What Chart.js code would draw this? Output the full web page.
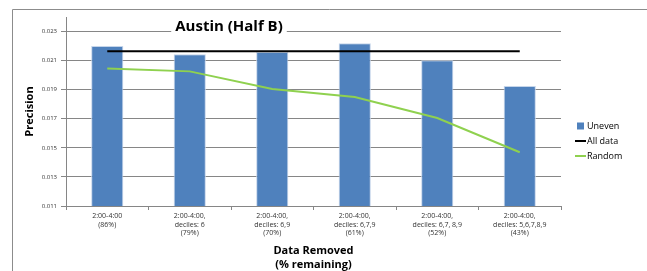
<!DOCTYPE html>
<html><head><meta charset="utf-8">
<script src="https://cdn.jsdelivr.net/npm/chart.js@4/dist/chart.umd.min.js"></script>
<style>html,body{margin:0;padding:0;background:#fff}#wrap{width:647px;height:271px}</style>
</head><body><div id="wrap"><canvas id="c" width="647" height="271"></canvas></div>
<script>
const categories = [
  ["2:00-4:00", "(86%)"],
  ["2:00-4:00,", "deciles: 6", "(79%)"],
  ["2:00-4:00,", "deciles: 6,9", "(70%)"],
  ["2:00-4:00,", "deciles: 6,7,9", "(61%)"],
  ["2:00-4:00,", "deciles: 6,7, 8,9", "(52%)"],
  ["2:00-4:00,", "deciles: 5,6,7,8,9", "(43%)"]
];
const uneven = [0.0220, 0.02143, 0.0216, 0.02219, 0.02102, 0.01926];
const allData = [0.02164, 0.02164, 0.02164, 0.02164, 0.02164, 0.02164];
const random = [0.02045, 0.02026, 0.01905, 0.0185, 0.01705, 0.0147];
const yTicks = [0.011, 0.013, 0.015, 0.017, 0.019, 0.021, 0.023];

const FONT = "'Open Sans', 'Liberation Sans', sans-serif";

const decor = {
  id: 'decor',
  beforeDraw(chart) {
    const ctx = chart.ctx;
    ctx.save();
    ctx.strokeStyle = '#8c8c8c';
    ctx.lineWidth = 1;
    ctx.beginPath();
    ctx.moveTo(12.5, 271);
    ctx.lineTo(12.5, 9.5);
    ctx.lineTo(647, 9.5);
    ctx.stroke();
    ctx.restore();
  },
  afterDraw(chart) {
    const ctx = chart.ctx;
    ctx.save();
    ctx.font = "bold 15px " + FONT;
    const t = "Austin (Half B)";
    const w = ctx.measureText(t).width;
    const cx = 229, cy = 27;
    ctx.fillStyle = '#fff';
    ctx.fillRect(cx - w / 2 - 4, cy - 10, w + 8, 20);
    ctx.fillStyle = '#000';
    ctx.textAlign = 'center';
    ctx.textBaseline = 'middle';
    ctx.fillText(t, cx, cy);
    const ds = chart.data.datasets;
    const lx = 575, ys = [126, 141, 156];
    ctx.font = "9px " + FONT;
    ctx.textAlign = 'left';
    ds.forEach((d, i) => {
      const y = ys[i];
      if (d.type === 'bar') {
        ctx.fillStyle = d.backgroundColor;
        ctx.fillRect(lx + 2, y - 3.5, 7, 7);
      } else {
        ctx.strokeStyle = d.borderColor;
        ctx.lineWidth = 2;
        ctx.beginPath();
        ctx.moveTo(lx, y);
        ctx.lineTo(lx + 11, y);
        ctx.stroke();
      }
      ctx.fillStyle = '#000';
      ctx.fillText(d.label, lx + 12, y + 0.5);
    });
    ctx.restore();
  }
};

new Chart(document.getElementById('c'), {
  data: {
    labels: categories,
    datasets: [
      { type: 'bar', label: 'Uneven', data: uneven, backgroundColor: '#4F81BD', borderColor: '#c5d5ea', borderWidth: {left:1,right:1,top:1,bottom:0}, barPercentage: 0.39, categoryPercentage: 1, order: 3 },
      { type: 'line', label: 'All data', data: allData, borderColor: '#000', borderWidth: 2, pointRadius: 0, tension: 0, order: 1 },
      { type: 'line', label: 'Random', data: random, borderColor: '#8fd14f', borderWidth: 2, pointRadius: 0, tension: 0, order: 2 }
    ]
  },
  options: {
    responsive: false,
    animation: false,
    devicePixelRatio: 1,
    layout: { padding: { left: 23, right: 86, top: 17, bottom: 0 } },
    plugins: { legend: { display: false }, title: { display: false }, tooltip: { enabled: false } },
    scales: {
      x: {
        grid: { display: true, drawOnChartArea: false, drawTicks: true, offset: true, tickLength: 4, color: '#868686' },
        border: { color: '#868686', width: 1 },
        ticks: { font: { size: 7, family: FONT }, color: '#333', maxRotation: 0, autoSkip: false, padding: 2 },
        title: { display: true, text: ['Data Removed', '(% remaining)'], font: { size: 11, weight: 'bold', family: FONT }, color: '#000', padding: { top: 2, bottom: 0 } },
        afterFit(s) { s.height = 65; }
      },
      y: {
        min: 0.011, max: 0.024,
        afterBuildTicks(s) { s.ticks = yTicks.map(v => ({ value: v })); },
        grid: { color: '#868686', tickLength: 5, drawTicks: true },
        border: { color: '#868686' },
        ticks: { font: { size: 6, family: FONT }, color: '#333', padding: 4, callback: v => v.toFixed(3) },
        title: { display: true, text: 'Precision', font: { size: 11, weight: 'bold', family: FONT }, color: '#000', padding: { top: 0, bottom: 0 } },
        afterFit(s) { s.width = 43; }
      }
    }
  },
  plugins: [decor]
});
</script></body></html>
